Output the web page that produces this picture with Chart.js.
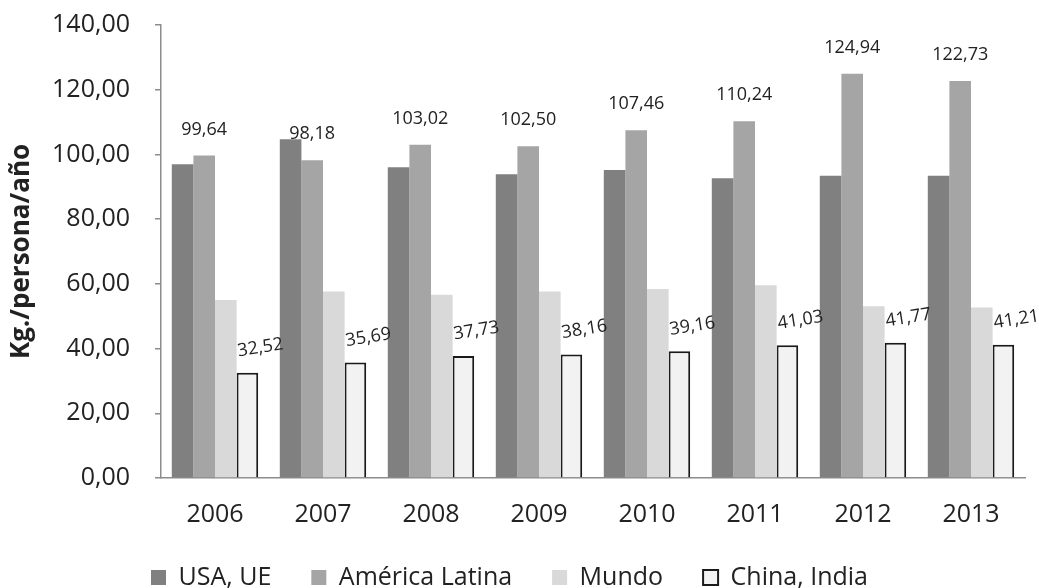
<!DOCTYPE html>
<html lang="es">
<head>
<meta charset="utf-8">
<title>Consumo por persona</title>
<script src="https://cdn.jsdelivr.net/npm/chart.js@4.4.1/dist/chart.umd.min.js"></script>
<style>
  html, body { margin: 0; padding: 0; background: #ffffff; }
  #wrap { width: 1039px; height: 588px; }
</style>
</head>
<body>
<div id="wrap"><canvas id="chart" width="1039" height="588"></canvas></div>
<script>
// Categories (years)
const years = ['2006', '2007', '2008', '2009', '2010', '2011', '2012', '2013'];

// Series values, kg per person per year
const usaUe = [97.0, 104.7, 96.0, 93.9, 95.2, 92.6, 93.4, 93.4];
const americaLatina = [99.64, 98.18, 103.02, 102.50, 107.46, 110.24, 124.94, 122.73];
const mundo = [55.0, 57.6, 56.6, 57.6, 58.4, 59.6, 53.1, 52.7];
const chinaIndia = [32.52, 35.69, 37.73, 38.16, 39.16, 41.03, 41.77, 41.21];

// Series names
const seriesNames = ['USA, UE', 'América Latina', 'Mundo', 'China, India'];

// Value axis
const yMin = 0;
const yMax = 140;
const yStep = 20;

const FONT = '"Open Sans", "DejaVu Sans", sans-serif';
const TEXT = '#222222';
const AXIS = '#8c8c8c';

const fmt = v => v.toFixed(2).replace('.', ',');

// Writes the value above selected bar series
const barValueLabels = {
  id: 'barValueLabels',
  afterDatasetsDraw(chart, args, opts) {
    const ctx = chart.ctx;
    ctx.save();
    ctx.font = opts.font;
    ctx.fillStyle = opts.color;
    ctx.textAlign = 'center';
    ctx.textBaseline = 'middle';
    Object.keys(opts.series).forEach(key => {
      const idx = Number(key);
      const cfg = opts.series[key];
      const meta = chart.getDatasetMeta(idx);
      const values = chart.data.datasets[idx].data;
      meta.data.forEach((bar, i) => {
        ctx.save();
        ctx.translate(bar.x + cfg.dx, bar.y + cfg.dy);
        ctx.rotate(cfg.rotation * Math.PI / 180);
        ctx.fillText(fmt(values[i]), 0, 0);
        ctx.restore();
      });
    });
    ctx.restore();
  }
};

// Moves the legend block after layout
const legendShift = {
  id: 'legendShift',
  afterLayout(chart, args, opts) {
    const lg = chart.legend;
    if (!lg) return;
    lg.left += opts.dx; lg.right += opts.dx;
    lg.top += opts.dy; lg.bottom += opts.dy;
  }
};

new Chart(document.getElementById('chart'), {
  type: 'bar',
  data: {
    labels: years,
    datasets: [
      { label: seriesNames[0], data: usaUe, backgroundColor: '#808080', borderWidth: 0 },
      { label: seriesNames[1], data: americaLatina, backgroundColor: '#a5a5a5', borderWidth: 0 },
      { label: seriesNames[2], data: mundo, backgroundColor: '#d9d9d9', borderWidth: 0 },
      { label: seriesNames[3], data: chinaIndia, backgroundColor: '#f2f2f2', borderColor: '#1a1a1a', borderWidth: 2 }
    ]
  },
  plugins: [barValueLabels, legendShift],
  options: {
    responsive: false,
    animation: false,
    devicePixelRatio: 1,
    layout: { padding: { top: 25, right: 14, left: 0, bottom: -25 } },
    datasets: {
      bar: { categoryPercentage: 0.8, barPercentage: 1.0 }
    },
    scales: {
      x: {
        grid: { display: false, drawTicks: false },
        border: { display: true, color: AXIS, width: 1.5 },
        ticks: { font: { family: FONT, size: 25 }, color: TEXT, padding: 22, maxRotation: 0 },
        afterFit(scale) { scale.height = 60; }
      },
      y: {
        min: yMin,
        max: yMax,
        ticks: {
          stepSize: yStep,
          font: { family: FONT, size: 25 },
          color: TEXT,
          padding: 25,
          callback: v => fmt(v)
        },
        grid: { drawOnChartArea: false, drawTicks: true, tickLength: 6, color: AXIS, lineWidth: 1.5 },
        border: { display: true, color: AXIS, width: 1.5 },
        title: {
          display: true,
          text: 'Kg./persona/año',
          font: { family: FONT, size: 26, weight: 'bold' },
          color: TEXT,
          padding: { top: 6, bottom: 0 }
        },
        afterFit(scale) {
          scale.width = 161;
          scale.paddingTop = 0;
          scale.paddingBottom = 0;
        }
      }
    },
    plugins: {
      legend: {
        position: 'bottom',
        labels: {
          font: { family: FONT, size: 25 },
          color: TEXT,
          boxWidth: 15,
          boxHeight: 15,
          padding: 40
        }
      },
      tooltip: { enabled: false },
      barValueLabels: {
        font: '18px ' + FONT,
        color: TEXT,
        series: {
          1: { dx: 0, dy: -26, rotation: 0 },
          3: { dx: 13, dy: -25, rotation: -9 }
        }
      },
      legendShift: { dx: -3, dy: -13 }
    }
  }
});
</script>
</body>
</html>
